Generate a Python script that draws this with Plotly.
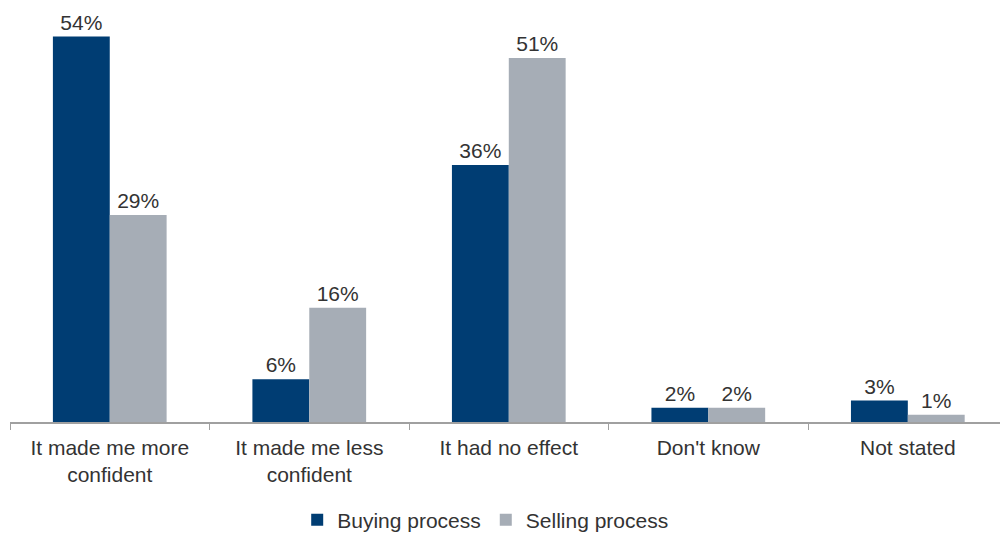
import plotly.graph_objects as go

categories = [
    "It made me more<br>confident",
    "It made me less<br>confident",
    "It had no effect",
    "Don't know",
    "Not stated",
]
buying = [54, 6, 36, 2, 3]
selling = [29, 16, 51, 2, 1]

BLUE = "#003D73"
GREY = "#A6ADB6"
TEXT = "#333333"
FS = 21

fig = go.Figure()
fig.add_trace(go.Bar(
    name="Buying process", x=categories, y=buying,
    marker=dict(color=BLUE, line=dict(width=0)),
    text=[f"{v}%" for v in buying], textposition="outside",
    textfont=dict(size=FS, color=TEXT), cliponaxis=False,
))
fig.add_trace(go.Bar(
    name="Selling process", x=categories, y=selling,
    marker=dict(color=GREY, line=dict(width=0)),
    text=[f"{v}%" for v in selling], textposition="outside",
    textfont=dict(size=FS, color=TEXT), cliponaxis=False,
))

fig.update_layout(
    width=1000, height=534,
    margin=dict(l=10, r=0, t=8, b=112, autoexpand=False),
    paper_bgcolor="white", plot_bgcolor="white",
    barmode="group", bargap=0.43, bargroupgap=0,
    font=dict(family="Liberation Sans, Arial, sans-serif", size=FS, color=TEXT),
    showlegend=True,
    legend=dict(
        orientation="h", x=0.48, xanchor="center", y=-0.237, yanchor="middle",
        font=dict(size=FS, color=TEXT), traceorder="normal",
        itemsizing="constant", itemwidth=30,
    ),
    xaxis=dict(
        range=[-0.5, 4.462],
        showline=True, linecolor="#A0A0A0", linewidth=1.5,
        ticks="outside", tickson="boundaries", ticklen=6,
        tickcolor="#A0A0A0", tickwidth=1,
        tickfont=dict(size=FS, color=TEXT), ticklabelstandoff=6,
        showgrid=False, zeroline=False, automargin=False,
    ),
    yaxis=dict(
        range=[0, 58], visible=False, showgrid=False, zeroline=False,
    ),
)

fig.write_html("out.html")
